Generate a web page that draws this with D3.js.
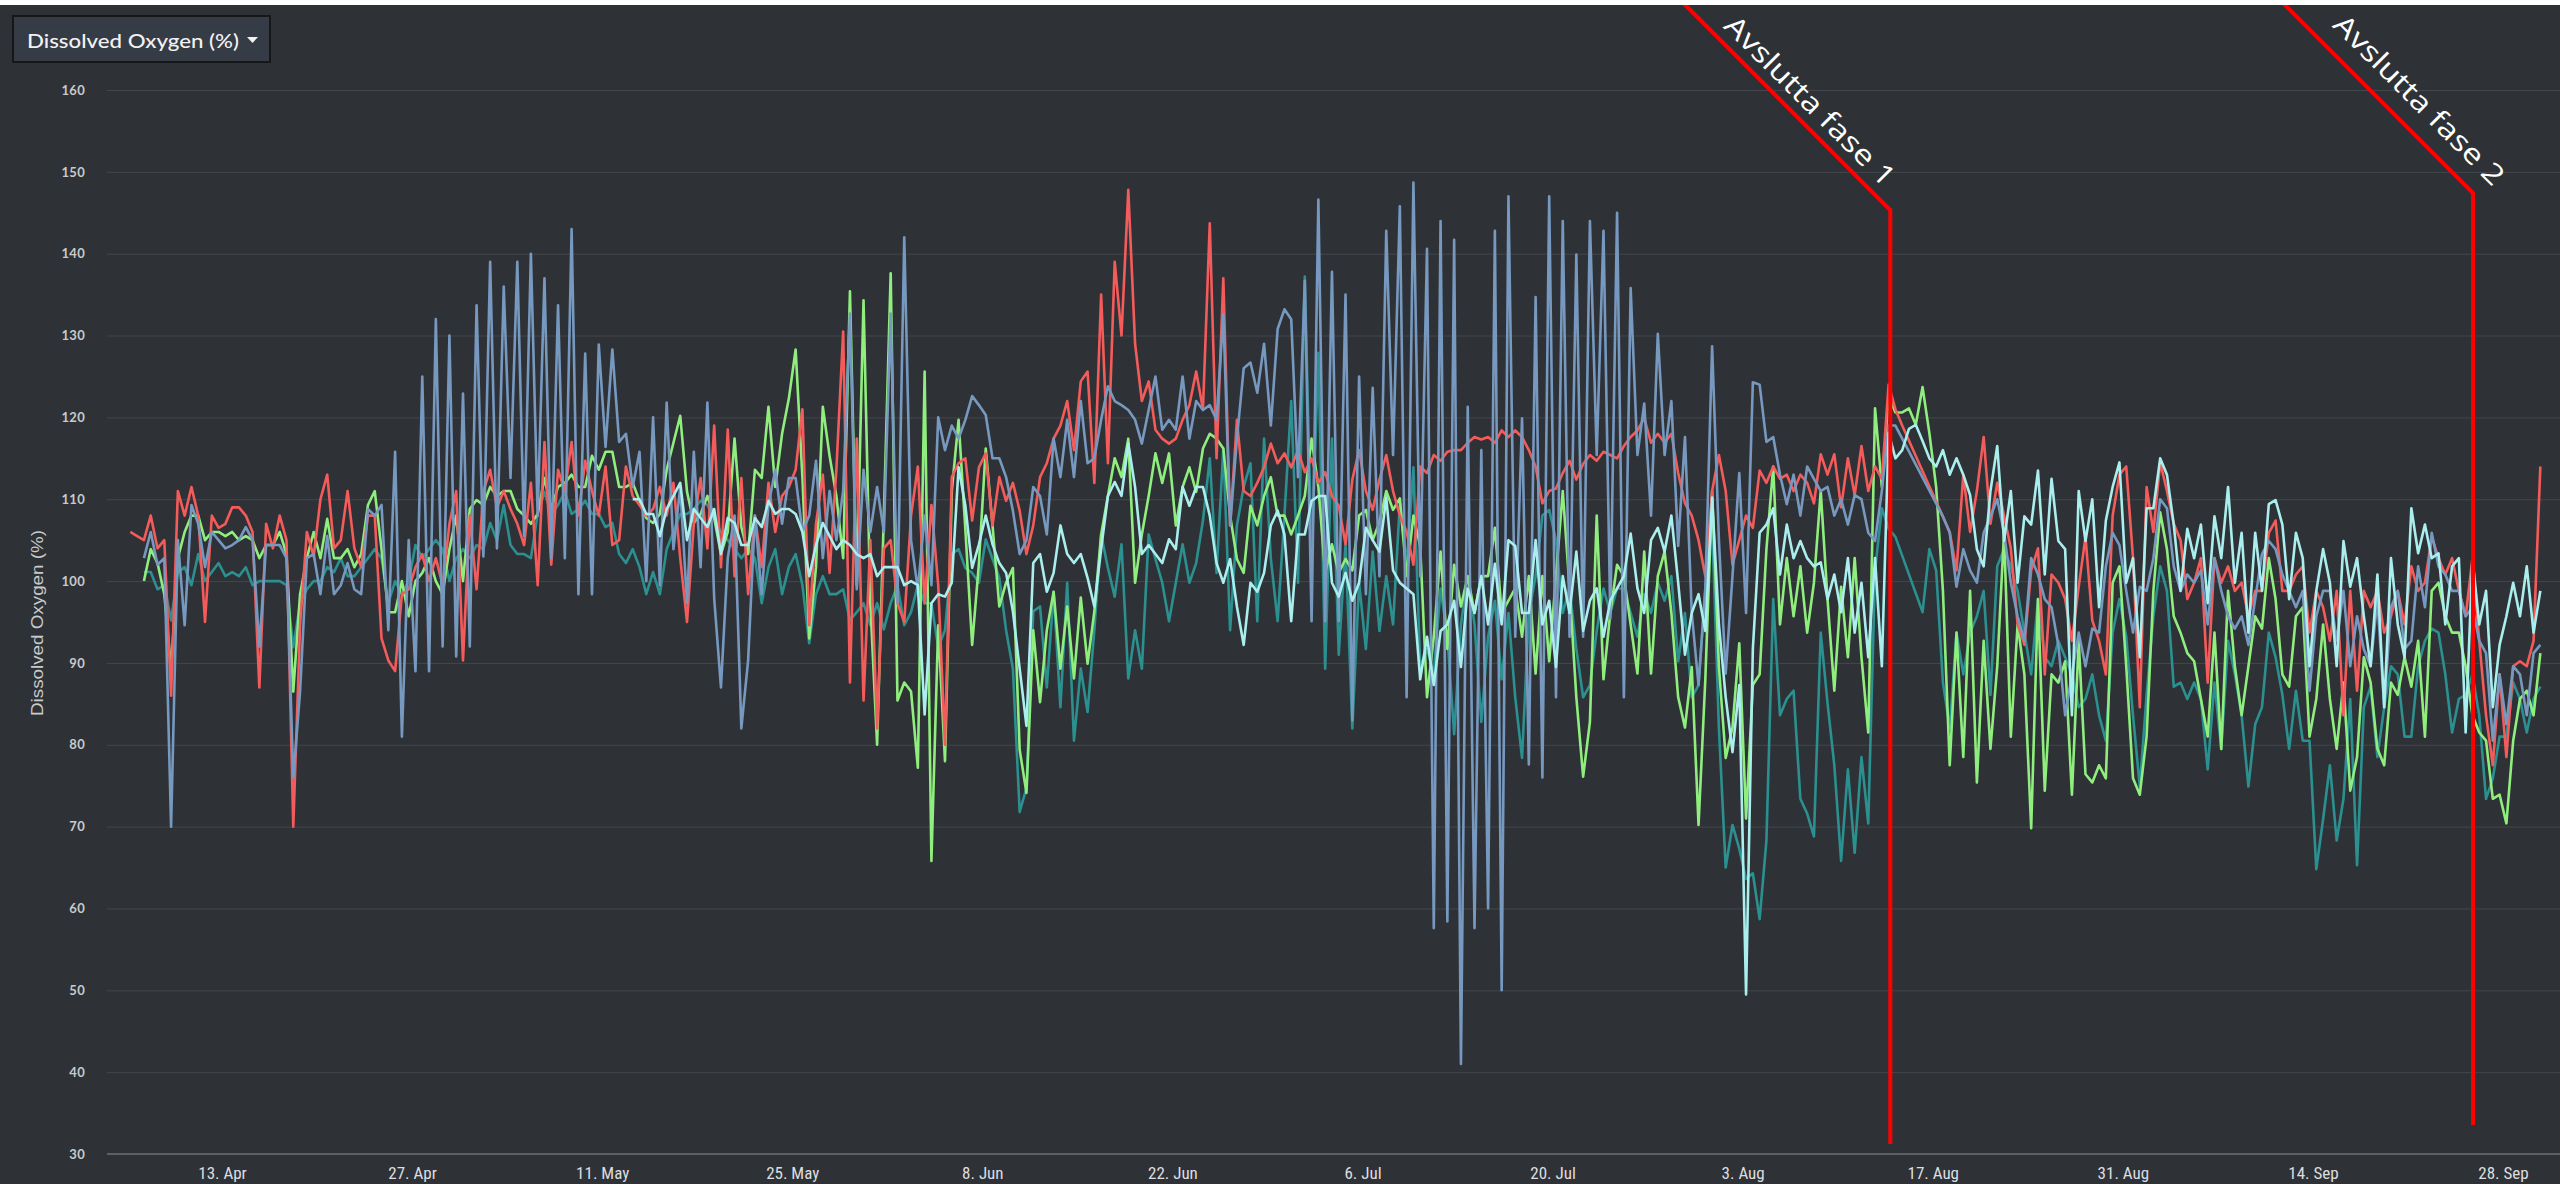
<!DOCTYPE html>
<html><head><meta charset="utf-8">
<script src="https://cdn.jsdelivr.net/npm/d3@7"></script>
<style>html,body{margin:0;padding:0;background:#2e3236;overflow:hidden}</style>
</head><body>
<svg id="c" width="2560" height="1184"></svg>
<script>
// ---------- DATA (12-hour samples) ----------
const STEP_HOURS = 12;
const redStart = "2020-04-06T06:00:00Z";
const redValues = [106,105.5,105,108,104,105,86,111,108,111.5,
108,95,108,106.5,107,109,109,108,106,87,
107,104,108,105,70,94.6,106,103,110,113,
104,105,111,104,101.7,108,108,93,90.3,89,
98.4,99,101.7,103.3,100,102.8,99.5,107,111,90.3,
108,99,111,113.6,109,111,108.8,107,104.4,112,
99.5,117,102,113.6,111,117,108,114.7,111,108,
114,104.4,105,114,110.4,109.3,108,108.8,111.5,108,
112,102.8,95,107,112.6,104,119,101.7,118.5,100.6,
112.6,98.4,108,101.7,112,106,110.4,111.5,113.6,121,
94.6,107,113,101,113.6,130.5,87.6,117.4,85.4,105,
82,104,105,97.3,95,108,114,97.3,109.3,99.5,
80,112.7,114.4,115,107.4,113.9,115.6,106.8,112.7,109.8,
112,108.6,103.3,106.8,112.7,114.4,117.4,119,122,116,
124.4,125.6,112,135,114.4,139,130,147.8,129,122,
124.4,118.5,117.4,116.8,117.4,119.7,121.5,125.6,121,143.7,
115,137,106.8,119.7,111,110.4,112,113.9,116.8,114.4,
115.6,113.9,116,113.3,115,112,113.3,110.4,109.2,104.5,
112.4,116,111,108.7,112.4,115.4,111,108,106,102,
114,113.2,115.4,114.7,115.8,116,116,116.9,117.6,117.3,
117.6,116.9,118.4,117.6,118.4,117.6,116,114,109.5,111,
111.3,113.2,114.7,112.4,114.3,115.4,114.7,115.8,115.4,115,
116.5,117.6,118.4,119.9,116.9,118,116.9,118,113.2,109.5,
108,105,100.6,111,115.4,111,102,105,108,106.5,
113.5,112,114,112.5,113,111,113,112,109.5,115.5,
113,115.5,109,115,110.5,116.5,111,114,112.5,124,
121,119,null,null,null,null,null,null,106,101.3,
113,106,111,117.6,107,112,108,104,94.7,92.2,
101.3,104,88.6,100.8,99.8,97.8,92.7,99.3,105.4,95.2,
92.7,88.6,108,113,114,102.8,84.6,111.5,106,114.5,
111,107,105,97.8,99.8,102.8,87.6,102.8,99.8,101.8,
98.8,99.8,95.7,98.8,98.8,105.9,107.4,98.8,98.8,100.8,
101.8,93.7,98.8,96.8,92.7,98.8,83.6,98.8,86.6,98.8,
96.8,98.8,93.7,95.7,98.8,94.7,101.8,98.8,99.8,105.4,
102.8,100.8,102.8,98.8,95.7,102.8,92.7,83.6,77.5,88.6,
78.5,89.6,90.2,89.6,92.7,114];

const blueStart = "2020-04-07T06:00:00Z";
const blueValues = [102.8,106,102,102.8,70,105,94.6,109.3,
107,101.7,106,105,104,104.4,105,106.6,105,92,
104.4,104.4,104.4,102.8,76,86.5,102.8,103.3,98.4,105.5,
98.4,99.5,102.2,99,98.4,108.8,108,109.3,94,115.8,
81,105,89,125,89,132,92,130,90.8,122.9,
92,133.7,103,139,104,136,112.6,139,105.5,140,
108,137,102.8,133.7,102.8,143,98.4,127.8,98.4,128.9,
116.4,128.3,117,118,111.5,115.8,100,120,99.5,121.8,
103.9,111.5,97.3,115.8,101.7,121.8,97.9,87,102.8,108,
82,90.3,108,98.4,109.3,113.6,107,112.6,112.6,106,
108,114.7,102.8,111,105,111,132.7,99,113.6,106,
111.5,106,132.7,97.3,142,105,99,108,99.5,120,
116,119,117.4,119.7,122.6,121.5,120.3,115,115,112.7,
108.6,103.3,105,111.5,110.4,105.7,117.4,112.7,119.7,112.7,
122,114.4,115,119.7,123.8,122,121.5,120.9,119.7,116.8,
120.9,125,118.5,119.7,118.5,125,117.4,122,120.9,121.5,
119.7,132.6,106.8,117.4,126,126.7,123,129,119,130.8,
133.2,132,112.7,136.7,95.1,146.6,95.1,137.8,95.1,135,
83,125,98.4,123.6,100.6,142.8,115.4,145.8,85.8,148.7,
100.6,140.6,57.6,144,58.4,141.7,41,121.3,57.6,116,
60,142.8,50,147,93.2,119.9,77.6,134.7,76,147,
85.8,144,93.2,139.9,93.2,144,115.4,142.8,95.4,145,
85.8,135.8,115.4,121.7,108,130.2,115.4,122,104.3,117.6,
96.1,87.3,99.1,128.7,105,88.7,100.6,113.2,96.1,124.3,
124,117,117.6,113,109.4,113,108,114,112.5,111,
111.5,108,110,106.9,110.5,110,105.9,104.9,111,119,
119,null,null,null,null,null,null,107.9,105.9,99.3,
103.9,101.3,99.8,105.9,107.9,110,105.9,99.8,95.7,92.7,
102.8,100.8,97.8,96.8,92.2,83.6,88.6,93.7,89.6,94.2,
93.7,101.8,105.9,104.4,98.8,93.7,99.3,98.8,102.8,110,
108.9,101.8,98.8,100.8,99.8,101.3,94.7,102.8,98.8,95.7,
94.2,95.7,92.2,97.8,103.3,104.9,103.9,100.8,98.8,96.8,
98.8,86.6,95.7,98.8,98.8,92.7,98.8,89.6,95.7,91.7,
89.6,97.8,84.6,96.8,98.8,91.7,92.7,101.8,96.8,105.9,
101.8,100.8,98.8,98.8,95.7,96.8,92.7,91.2,80.5,88.6,
82.5,89.6,88.6,83.6,91.2,92.2];

const greenStart = "2020-04-07T06:00:00Z";
const greenValues = [100,103.9,102.2,98.4,89.2,102.8,106,108,
108,105,106,106,105.5,106,105,105.5,105,102.8,
104.4,104.4,106,103.3,86.5,98.4,102.8,106,102.8,107.6,
102.8,102.8,103.9,101.7,103.3,109.3,111,103.9,96.2,96.2,
100,95.7,100,101,102.8,100,98.4,103.9,108,100,
108.8,109.9,109.3,111.5,110.4,111,111,108.8,108,107,
108.2,112.6,108.8,111.5,112,113,111.5,111.5,115.3,113.6,
115.8,115.8,111.5,111.5,112,109.8,107.7,107.1,108.2,113.6,
116.9,120.2,110.9,107.1,108.2,110.4,107.7,103.3,106,117.4,
106.6,103.3,113.6,112.6,121.3,111.5,118,122.3,128.3,112.6,
93,101.7,121.3,115.3,110.4,102.8,135.4,99.5,134.3,97.3,
80,108.2,137.6,85.4,87.6,86.5,77.2,125.6,65.8,94.6,
78,111,119.7,106.3,92.2,102.2,116.2,106.8,96.9,99.8,
101.6,79.4,74.1,94,85.2,94,98.7,89.3,96.9,88.1,
98,89.9,96.3,105.7,110.4,115,112.7,117.4,99.8,105.7,
110.4,115.6,112,115.6,106.8,111.5,113.9,110.9,116.2,118,
117.4,116.2,108,102.7,101,109.2,106.8,110.4,112.7,108,
108,105.7,108,110.4,117.4,111.5,101,104.5,101,102.7,
101.3,108,108.7,105,107.2,111,108.7,110.1,100.6,108,
104.3,85.8,93.2,103.6,91.7,102,96.9,100.6,96.1,100.6,
100.6,106.5,96.1,97.6,99.1,93.2,100.6,88.7,100.6,90.2,
100.6,111,99.1,85.8,76.1,82.8,108,88,96.1,102,
100.6,94.7,88.7,103.6,88.7,100.6,103.6,96.1,85.8,82.1,
89.5,70.2,88,111,89.5,78.4,82.1,92.4,71,87.3,
88.6,103.9,114,94.7,102.8,95.7,101.8,93.7,99.8,111,
97.8,86.6,99.3,90.7,102.8,90.7,81.5,121.1,111.5,122.6,
120.6,120.6,121.1,119.1,123.7,118.1,111.5,98.8,77.5,93.7,
78.5,98.8,75.4,92.7,79.5,89.6,105.9,81,94.7,88.6,
69.8,97.8,74.4,88.6,87.6,90.2,73.9,92.7,76.4,75.4,
77.5,75.9,99.8,101.8,89.6,75.9,73.9,81,98.8,108.4,
103.9,95.7,93.7,91.2,90.2,85.6,81,93.7,79.5,98.8,
89.6,83.6,89.6,95.7,94.2,102.8,97.8,88.6,87.1,95.7,
96.8,81,85.6,94.7,85.6,79.5,87.6,74.4,78.5,90.7,
87.6,79.5,77.5,87.6,86.1,90.7,87.1,92.7,81,98.8,
99.8,95.7,93.7,93.7,89.6,83.6,81.5,80.5,73.4,73.9,
70.4,80.5,85.6,86.6,83.6,91.2];

const tealStart = "2020-04-07T06:00:00Z";
const tealValues = [101.1,101.1,99,99.5,95.2,101.1,101.7,99.5,
103.3,100,101.1,102.2,100.6,101.1,100.6,101.7,99.5,100,
100,100,100,99.5,91.9,97.3,99,100,100,101.7,
101.1,102.8,100.6,100.6,101.7,102.8,103.9,102.8,97.3,100,
98.4,100,104.4,102.8,103.9,105,103.9,100,102.8,103.9,
102.8,104.4,103.9,107.1,105,109.3,104.4,103.3,103.3,102.8,
108.2,110.9,108.2,109.3,110.9,108.2,108.8,109.8,108.2,108.2,
106.6,107.1,103.3,102.2,103.9,101.7,98.4,101.1,98.4,103.9,
106,108.2,108.2,108.8,109.8,109.3,107.7,106,105,103.9,
102.8,103.9,102.8,97.3,101.7,103.9,98.4,101.7,103.3,99.5,
92.4,98.4,100.6,98.4,98.4,99,95.2,96.2,97.3,94.6,
97.3,94.1,97.3,99.5,94.6,96.2,99.5,97.3,97.3,91.9,
94,103.3,103.9,101.6,101,99.8,105.1,102.7,100.4,94,
89.3,71.8,74.7,96.3,96.9,87,98.7,84.6,99.8,80.5,
89.3,84,94,105.7,101.6,98.1,104.5,88.1,94,89.3,
105.7,102.7,99.8,95.1,99.8,104.5,99.8,102.2,107.4,115,
101,116.2,94,106.8,111.5,114.4,95.1,117.4,102.7,95.1,
108,122,99.8,137.2,102.7,127.9,89.3,117.4,91,104.5,
82,99.8,91.7,103.6,93.9,100.6,94.7,109.5,102,113.9,
89.5,91.7,88.7,99.1,93.2,81.3,94.7,100.6,94.7,82.8,
93.2,97.6,88,96.1,85.8,78.4,96.1,100.6,108,108.7,
105,96.1,99.1,91.7,85.8,87.3,93.9,99.1,96.1,99.1,
99.1,96.1,93.2,98.4,96.1,99.8,97.6,100.6,90.2,96.1,
85.8,87.3,99.1,107.2,82,65,70.2,67.3,63.6,64.3,
58.7,68.3,97.8,83.6,85.6,86.6,73.4,71.6,68.8,93.7,
85.1,77.5,65.8,77,66.8,78.5,70.4,101.3,108.9,106.4,
105.4,null,null,null,96.2,103.9,101.3,87.6,82,93.7,
88.6,93.7,95.7,98.8,86.1,101.8,103.9,101.8,98.8,93.7,
88.6,97.8,90.7,89.6,92.7,90.7,88.6,84.6,85.6,88.6,
83.6,80.5,93.7,97.8,93.2,83.6,74.9,86.1,95.7,101.8,
98.8,87.1,87.6,85.6,87.6,85.6,77,87.6,79.5,92.7,
88.6,83.6,74.9,82.5,84.6,93.7,90.7,86.1,79.5,86.6,
80.5,80.5,64.8,70.9,77.5,68.3,73.4,85.6,65.3,84.6,
87.1,78.5,84.6,89.6,88.6,81,81,89.6,92.7,94.2,
93.7,88.6,81.5,85.6,86.1,88.6,83.6,73.4,75.9,81,
81,87.6,85.6,81.5,85.6,87.1];

const cyanStart = "2020-05-13T06:00:00Z";
const cyanValues = [110,110,108.2,108.2,105.5,108.8,
110.4,112,105,108.8,107.7,106.6,108.8,103.3,107.7,107.1,
104.4,104.4,107.7,106.6,109.8,108.2,108.8,108.8,108.2,106,
100.6,104.4,107.1,105.5,103.9,105,104.4,103.3,102.8,103.3,
100.6,101.7,101.7,101.7,99.5,100,99.5,83.7,97.3,98.4,
98.1,99.8,113.9,109.2,101.6,104.5,108,104.5,102.2,101,
96.3,89.3,82.3,102.2,103.3,98.7,101,106.8,103.3,102.2,
103.3,100.4,96.9,103.9,110.4,112.1,110.4,116.8,111.5,103.3,
104.4,103.3,102.2,105.1,103.9,111.5,109.2,111.5,111.5,108,
102.2,99.8,102.7,96.9,92.2,99.8,98.7,101,106.8,108.6,
105.7,95.1,105.7,105.7,109.8,110.4,110.4,99.8,98.1,101,
97.6,99.8,106.5,105,103.6,110.2,101.3,99.8,99.1,98.4,
88,93.2,87.3,93.9,94.7,97.6,89.5,99.1,96.1,100.6,
94.7,102.1,94.7,105,104.3,96.1,96.1,105,94.7,97.6,
89.5,100.6,96.1,103.6,93.9,97.6,99.1,93.2,97.6,99.1,
100.6,105.8,99.1,96.1,105,106.5,103.6,108,99.8,91,
96.1,98.4,93.9,110.2,94.7,85.8,79.1,87.3,49.5,91.7,
105.9,106.9,108.9,100.8,106.9,102.8,104.9,102.8,101.8,102.3,
97.8,100.8,96.2,102.8,93.7,99.8,90.7,102.8,89.6,118.1,
115,116,118.6,119.1,117.1,115,114,116,113,115,
113,110.5,103.9,101.8,111,116.5,104.9,111,99.8,107.9,
106.9,113.5,100.8,112.5,104.9,103.9,83.6,111,104.9,110,
96.8,107.4,111.5,114.5,99.8,102.8,90.7,108.9,108.9,115,
113,106.9,98.8,106.4,102.8,106.9,97.3,107.9,102.8,111.5,
99.8,105.9,93.7,105.9,98.8,109.4,109.9,106.9,97.8,105.9,
102.8,89.6,98.8,103.9,99.8,89.6,104.9,99.3,102.8,95.7,
89.6,100.8,84.6,102.8,94.7,90.7,108.9,103.4,106.9,102.8,
103.4,94.7,101.8,102.8,81.5,102.8,94.7,98.8,84.6,92.2,
95.7,99.8,95.7,101.8,93.7,98.8];

const yTicks = [30,40,50,60,70,80,90,100,110,120,130,140,150,160];
const xTickDates = ["2020-04-13","2020-04-27","2020-05-11","2020-05-25","2020-06-08","2020-06-22","2020-07-06","2020-07-20","2020-08-03","2020-08-17","2020-08-31","2020-09-14","2020-09-28"];
const phaseDates = ["2020-08-13T21:00:00Z","2020-09-25T19:00:00Z"];
const phaseLabels = ["Avslutta fase 1","Avslutta fase 2"];
const titleText = "Dissolved Oxygen (%)";

// ---------- CHART ----------
const W = 2560, H = 1184;
const svg = d3.select("#c");
svg.append("rect").attr("width", W).attr("height", H).attr("fill", "#2e3236");

const plotLeft = 107, plotRight = 2560;
const x = d3.scaleUtc()
  .domain([new Date("2020-04-13T00:00:00Z"), new Date("2020-09-28T00:00:00Z")])
  .range([222, 2503]);
const y = d3.scaleLinear().domain([30, 160]).range([1154, 90]);

// y axis with gridlines
const yAxis = svg.append("g").attr("transform", `translate(${plotLeft},0)`)
  .call(d3.axisLeft(y).tickValues(yTicks).tickSize(-(plotRight - plotLeft)).tickPadding(22));
yAxis.select(".domain").remove();
yAxis.selectAll(".tick line").attr("stroke", d => d === 30 ? "none" : "#43474c").attr("stroke-width", 1);
yAxis.selectAll(".tick text")
  .attr("fill", "#c9cacc").attr("font-family", "Lato, 'Open Sans', sans-serif")
  .attr("font-weight", 700).attr("font-size", 13).attr("letter-spacing", 0.3);

// x axis
svg.append("line").attr("x1", plotLeft).attr("x2", plotRight)
  .attr("y1", y(30)).attr("y2", y(30)).attr("stroke", "#5d6065").attr("stroke-width", 2);
const xAxis = svg.append("g").attr("transform", `translate(0,${y(30)})`)
  .call(d3.axisBottom(x).tickValues(xTickDates.map(s => new Date(s + "T00:00:00Z")))
    .tickFormat(d3.utcFormat("%-d. %b")).tickSize(0));
xAxis.select(".domain").remove();
xAxis.selectAll(".tick text")
  .attr("y", 25).attr("dy", 0)
  .attr("fill", "#dedee0")
  .attr("font-family", "'Liberation Sans Narrow', 'Roboto Condensed', 'DejaVu Sans Condensed', sans-serif")
  .attr("font-stretch", "condensed")
  .attr("font-size", 17);

// y axis title
svg.append("text").attr("transform", "translate(43,623) rotate(-90)")
  .attr("text-anchor", "middle").attr("fill", "#c9cacc")
  .attr("font-family", "'Liberation Sans', Arial, sans-serif").attr("font-size", 17)
  .attr("textLength", 186).attr("lengthAdjust", "spacingAndGlyphs")
  .text(titleText);

// series
const STEP = STEP_HOURS * 3600 * 1000;
function toPoints(start, values) {
  const t0 = new Date(start).getTime();
  return values.map((v, i) => ({t: new Date(t0 + i * STEP), v})).filter(d => d.v !== null);
}
const series = [
  {start: tealStart, values: tealValues, color: "#2b908f"},
  {start: greenStart, values: greenValues, color: "#90ee7e"},
  {start: redStart, values: redValues, color: "#f45b5b"},
  {start: blueStart, values: blueValues, color: "#7798bf"},
  {start: cyanStart, values: cyanValues, color: "#aaeeee"}
];
const line = d3.line().x(d => x(d.t)).y(d => y(d.v));
svg.append("g").selectAll("path").data(series).join("path")
  .attr("d", s => line(toPoints(s.start, s.values)))
  .attr("fill", "none").attr("stroke", s => s.color)
  .attr("stroke-width", 2.6).attr("stroke-linejoin", "round");

// phase annotations
const phaseGeom = [
  {cornerY: 210, bottomY: 1144, textX: 1811, textY: 100},
  {cornerY: 193, bottomY: 1125, textX: 2420, textY: 99}
];
phaseDates.forEach((ds, k) => {
  const px = x(new Date(ds));
  const g = phaseGeom[k];
  const len = g.cornerY + 8;
  svg.append("path")
    .attr("d", `M${px - len},${g.cornerY - len} L${px},${g.cornerY} L${px},${g.bottomY}`)
    .attr("fill", "none").attr("stroke", "#ff0000").attr("stroke-width", 4)
    .attr("stroke-linejoin", "miter");
  svg.append("text")
    .attr("transform", `translate(${g.textX},${g.textY}) rotate(45)`)
    .attr("text-anchor", "middle").attr("dominant-baseline", "central")
    .attr("fill", "#ffffff").attr("font-family", "'Open Sans', sans-serif")
    .attr("font-size", 28).attr("textLength", 228).attr("lengthAdjust", "spacingAndGlyphs")
    .text(phaseLabels[k]);
});

// top white band
svg.append("rect").attr("x", 0).attr("y", 0).attr("width", W).attr("height", 5).attr("fill", "#ffffff");

// dropdown button
svg.append("rect").attr("x", 13).attr("y", 16).attr("width", 257).attr("height", 46)
  .attr("fill", "#353c46").attr("stroke", "#151719").attr("stroke-width", 2);
svg.append("text").attr("x", 27).attr("y", 48)
  .attr("fill", "#f2f2f2").attr("font-family", "Lato, 'Open Sans', sans-serif")
  .attr("font-size", 20).attr("font-weight", 500)
  .attr("textLength", 212).attr("lengthAdjust", "spacingAndGlyphs")
  .text(titleText);
svg.append("path").attr("d", "M247,37 L258,37 L252.5,43 Z").attr("fill", "#f2f2f2");
</script>
</body></html>
